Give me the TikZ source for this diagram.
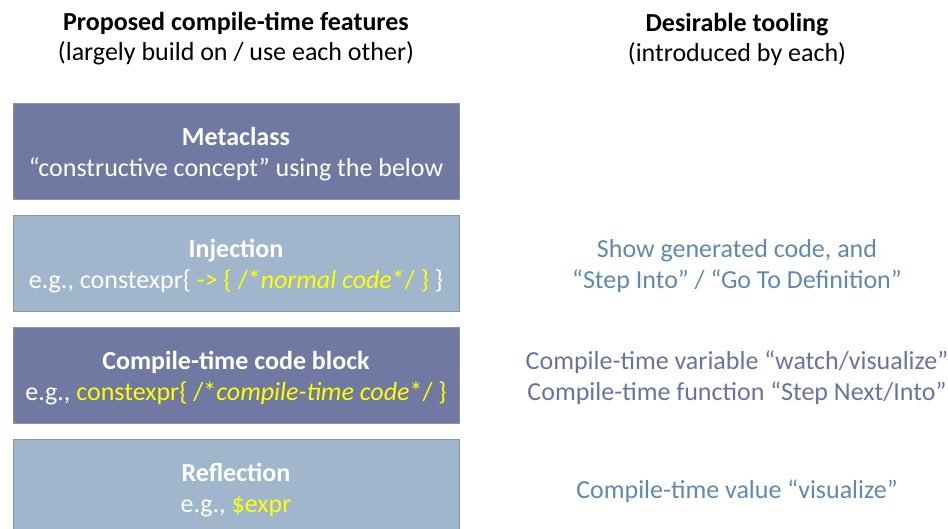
\documentclass[tikz,border=0pt]{standalone}
\usepackage{fontspec}
\setmainfont{Carlito}
\definecolor{darkbox}{HTML}{6F79A1}
\definecolor{lightbox}{HTML}{A0B6CC}
\definecolor{boxline}{HTML}{8C93A8}
\definecolor{ylw}{HTML}{FFFF00}
\definecolor{tlight}{HTML}{5F89B2}
\definecolor{tdark}{HTML}{6972A3}
\begin{document}
\begin{tikzpicture}[x=1pt,y=-1pt,
  featbox/.style={draw=boxline,line width=1pt,minimum width=446pt,minimum height=96pt,anchor=north west,inner sep=0pt},
  feattxt/.style={align=center,text=white,font=\fontsize{26}{31}\selectfont},
  hdr/.style={align=center,font=\fontsize{26}{30}\selectfont,text=black},
  tool/.style={align=center,font=\fontsize{26}{31}\selectfont}]
\useasboundingbox (0,0) rectangle (948,529);
\begin{scope}
\clip (0,0) rectangle (948,529);
\node[hdr] (h1) at (236,39) {\textbf{Proposed compile-time features}\\(largely build on / use each other)};
\node[hdr] (h2) at (737,39) {\textbf{Desirable tooling}\\(introduced by each)};
\node[featbox,fill=darkbox] (meta) at (13,103) {};
\node[feattxt] (metatxt) at (236,154) {\textbf{Metaclass}\\“constructive concept” using the below};
\node[featbox,fill=lightbox] (inj) at (13,215) {};
\node[feattxt] (injtxt) at (236,266) {\textbf{Injection}\\e.g., constexpr\{ \textcolor{ylw}{-> \{ /*\textit{normal code}*/ \}} \}};
\node[featbox,fill=darkbox] (ctb) at (13,327) {};
\node[feattxt] (ctbtxt) at (236,378) {\textbf{Compile-time code block}\\e.g., \textcolor{ylw}{constexpr\{ /*\textit{compile-time code}*/ \}}};
\node[featbox,fill=lightbox,minimum height=110pt] (refl) at (13,439) {};
\node[feattxt] (refltxt) at (236,490) {\textbf{Reflection}\\e.g., \textcolor{ylw}{\$expr}};
\node[tool,text=tlight] (t1) at (737,266) {Show generated code, and\\“Step Into” / “Go To Definition”};
\node[tool,text=tdark] (t2) at (737,378) {Compile-time variable “watch/visualize”\\Compile-time function “Step Next/Into”};
\node[tool,text=tlight] (t3) at (737,491) {Compile-time value “visualize”};
\end{scope}
\end{tikzpicture}
\end{document}
